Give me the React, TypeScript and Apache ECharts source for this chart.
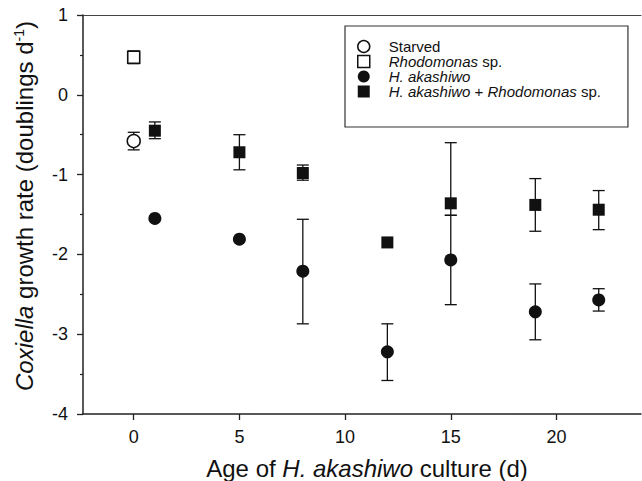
import React, { useEffect, useRef } from 'react';
import * as echarts from 'echarts';

// ---- data ----
const xTicks = [0, 5, 10, 15, 20];

const starvedX = [0];
const starvedY = [-0.58];
const starvedHigh = [-0.47];
const starvedLow = [-0.69];

const rhodoX = [0];
const rhodoY = [0.47];
const rhodoHigh = [0.55];
const rhodoLow = [0.39];

const hakaX = [1, 5, 8, 12, 15, 19, 22];
const hakaY = [-1.55, -1.81, -2.21, -3.22, -2.07, -2.72, -2.57];
const hakaHigh = [null, null, -1.56, -2.87, -1.51, -2.37, -2.43];
const hakaLow = [null, null, -2.87, -3.58, -2.63, -3.07, -2.71];

const mixX = [1, 5, 8, 12, 15, 19, 22];
const mixY = [-0.45, -0.72, -0.98, -1.85, -1.36, -1.38, -1.44];
const mixHigh = [-0.34, -0.5, -0.88, null, -0.6, -1.05, -1.2];
const mixLow = [-0.55, -0.94, -1.07, null, -1.51, -1.71, -1.69];

const NAMES = ['Starved', 'Rhodomonas sp.', 'H. akashiwo', 'H. akashiwo + Rhodomonas sp.'];

const FONT = '"Liberation Sans", Arial, Helvetica, sans-serif';
const INK = '#111';
const SQUARE_ICON = 'path://M0,0h10v10h-10z';

function pts(xs: number[], ys: number[]) {
  return xs.map((x, i) => [x, ys[i]]);
}
function bars(xs: number[], lo: (number | null)[], hi: (number | null)[]) {
  const out: number[][] = [];
  xs.forEach((x, i) => {
    const l = lo[i];
    const h = hi[i];
    if (l != null && h != null) out.push([x, l, h]);
  });
  return out;
}

const errRender = (params: any, api: any) => {
  const x = api.value(0);
  const pLo = api.coord([x, api.value(1)]);
  const pHi = api.coord([x, api.value(2)]);
  const hw = 6;
  const style = { stroke: INK, lineWidth: 1.3, fill: 'none' };
  return {
    type: 'group',
    children: [
      { type: 'line', shape: { x1: pHi[0], y1: pHi[1], x2: pLo[0], y2: pLo[1] }, style },
      { type: 'line', shape: { x1: pHi[0] - hw, y1: pHi[1], x2: pHi[0] + hw, y2: pHi[1] }, style },
      { type: 'line', shape: { x1: pLo[0] - hw, y1: pLo[1], x2: pLo[0] + hw, y2: pLo[1] }, style },
    ],
  };
};

function errSeries(data: number[][]) {
  return {
    type: 'custom',
    renderItem: errRender,
    data,
    z: 1,
    silent: true,
    encode: { x: 0, y: [1, 2] },
  };
}

const legendFormatter = (name: string) => {
  if (name === 'Rhodomonas sp.') return '{i|Rhodomonas} sp.';
  if (name === 'H. akashiwo') return '{i|H. akashiwo}';
  if (name === 'H. akashiwo + Rhodomonas sp.') return '{i|H. akashiwo} + {i|Rhodomonas} sp.';
  return name;
};

export default function App() {
  const ref = useRef<HTMLDivElement>(null);
  useEffect(() => {
    if (!ref.current) return;
    const chart = echarts.init(ref.current, undefined, { renderer: 'svg' });
    const axisLine = { show: true, onZero: false, lineStyle: { color: '#222', width: 1.5 } };
    const option: any = {
      animation: false,
      backgroundColor: '#fff',
      textStyle: { fontFamily: FONT, color: INK },
      grid: { left: 83, top: 15, right: 1, bottom: 67, containLabel: false },
      xAxis: [
        {
          type: 'value',
          min: -2.4,
          max: 24,
          position: 'bottom',
          axisLine,
          axisTick: { show: true, length: 6, customValues: xTicks, lineStyle: { color: '#222', width: 1.3 } },
          axisLabel: { customValues: xTicks, fontSize: 18, margin: 14, color: INK, fontFamily: FONT },
          splitLine: { show: false },
        },
        {
          type: 'value',
          min: -2.4,
          max: 24,
          position: 'top',
          axisLine: { show: true, onZero: false, lineStyle: { color: '#444', width: 1.2 } },
          axisTick: { show: false },
          axisLabel: { show: false },
          splitLine: { show: false },
        },
      ],
      yAxis: {
        type: 'value',
        min: -4,
        max: 1,
        interval: 1,
        axisLine,
        axisTick: { show: true, length: 6, lineStyle: { color: '#222', width: 1.3 } },
        minorTick: { show: true, splitNumber: 2, length: 3, lineStyle: { color: '#222', width: 1.2 } },
        axisLabel: { fontSize: 18, margin: 15, color: INK, fontFamily: FONT },
        splitLine: { show: false },
        minorSplitLine: { show: false },
      },
      legend: {
        orient: 'vertical',
        left: 345,
        top: 26,
        padding: [13, 27, 28, 12],
        itemWidth: 40,
        itemHeight: 12,
        itemGap: 0,
        borderColor: '#333',
        borderWidth: 1.2,
        selectedMode: false,
        formatter: legendFormatter,
        textStyle: {
          fontSize: 15,
          color: INK,
          fontFamily: FONT,
          rich: { i: { fontStyle: 'italic', fontSize: 15, color: INK, fontFamily: FONT } },
        },
        data: [
          { name: NAMES[0], icon: 'circle', itemStyle: { color: '#fff', borderColor: INK, borderWidth: 1.5 } },
          { name: NAMES[1], icon: SQUARE_ICON, itemStyle: { color: '#fff', borderColor: INK, borderWidth: 1.5 } },
          { name: NAMES[2], icon: 'circle', itemStyle: { color: INK, borderWidth: 0 } },
          { name: NAMES[3], icon: SQUARE_ICON, itemStyle: { color: INK, borderWidth: 0 } },
        ],
      },
      series: [
        errSeries(bars(starvedX, starvedLow, starvedHigh)),
        errSeries(bars(rhodoX, rhodoLow, rhodoHigh)),
        errSeries(bars(hakaX, hakaLow, hakaHigh)),
        errSeries(bars(mixX, mixLow, mixHigh)),
        {
          name: NAMES[0],
          type: 'scatter',
          symbol: 'circle',
          symbolSize: 13,
          z: 3,
          itemStyle: { color: '#fff', borderColor: INK, borderWidth: 1.5, opacity: 1 },
          data: pts(starvedX, starvedY),
        },
        {
          name: NAMES[1],
          type: 'scatter',
          symbol: 'rect',
          symbolSize: 12,
          z: 3,
          itemStyle: { color: '#fff', borderColor: INK, borderWidth: 1.6, opacity: 1 },
          data: pts(rhodoX, rhodoY),
        },
        {
          name: NAMES[2],
          type: 'scatter',
          symbol: 'circle',
          symbolSize: 13,
          z: 3,
          itemStyle: { color: INK, opacity: 1 },
          data: pts(hakaX, hakaY),
        },
        {
          name: NAMES[3],
          type: 'scatter',
          symbol: 'rect',
          symbolSize: 12,
          z: 3,
          itemStyle: { color: INK, opacity: 1 },
          data: pts(mixX, mixY),
        },
      ],
      graphic: [
        {
          type: 'text',
          x: 24,
          y: 206,
          rotation: Math.PI / 2,
          style: {
            text: '{i|Coxiella} growth rate (doublings d{sup|-1})',
            fontSize: 24,
            fontFamily: FONT,
            fill: INK,
            align: 'center',
            verticalAlign: 'middle',
            rich: {
              i: { fontStyle: 'italic', fontSize: 24, fontFamily: FONT, fill: INK },
              sup: { fontSize: 14, fontFamily: FONT, fill: INK, verticalAlign: 'top' },
            },
          },
        },
        {
          type: 'text',
          x: 367,
          y: 468,
          style: {
            text: 'Age of {i|H. akashiwo} culture (d)',
            fontSize: 24,
            fontFamily: FONT,
            fill: INK,
            align: 'center',
            verticalAlign: 'middle',
            rich: {
              i: { fontStyle: 'italic', fontSize: 24, fontFamily: FONT, fill: INK },
            },
          },
        },
      ],
    };
    chart.setOption(option);
    return () => chart.dispose();
  }, []);
  return (
    <div
      ref={ref}
      style={{ position: 'absolute', left: 0, top: 0, width: 642, height: 481, background: '#fff' }}
    />
  );
}
